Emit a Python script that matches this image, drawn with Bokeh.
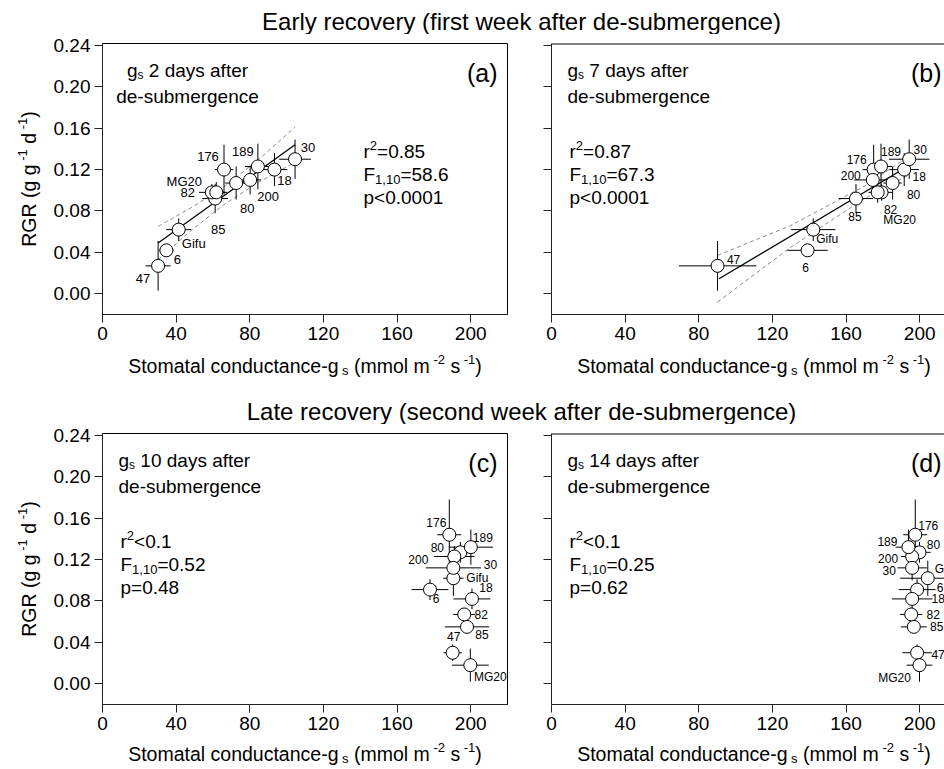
import math
from bokeh.plotting import figure
from bokeh.models import Label, Range1d, FixedTicker, NumeralTickFormatter, CustomJSTickFormatter, Span
from bokeh.layouts import column, row
from bokeh.embed import file_html
from bokeh.resources import INLINE

FONT = "Liberation Sans"

# ---------------- data ----------------
genotypes = ["47", "6", "Gifu", "85", "82", "MG20", "176", "80", "200", "189", "18", "30"]

gs_day2 = [30.2, 34.7, 41.4, 61.2, 59.4, 61.8, 66.0, 72.6, 80.2, 84.4, 93.4, 104.6]
gs_day2_err = [6.8, 4.0, 6.8, 7.0, 7.0, 6.0, 5.0, 6.0, 6.0, 7.0, 7.0, 8.6]
gs_day7 = [90.2, 139.1, 142.2, 165.4, 179.3, 177.2, 175.0, 185.3, 174.5, 179.0, 191.6, 194.3]
gs_day7_err = [21.0, 11.0, 12.0, 9.4, 6.0, 5.0, 6.0, 5.0, 10.0, 6.0, 8.0, 11.0]
gs_day10 = [190.2, 177.9, 190.6, 198.0, 196.5, 199.8, 188.4, 194.4, 191.1, 200.1, 200.7, 190.6]
gs_day10_err = [5.0, 10.0, 5.5, 12.0, 6.0, 10.0, 6.5, 6.0, 11.0, 12.0, 10.0, 15.0]
gs_day14 = [198.6, 198.6, 204.4, 196.8, 195.4, 199.9, 197.6, 199.9, 195.9, 193.9, 195.9, 195.9]
gs_day14_err = [8.0, 10.0, 15.0, 7.0, 6.0, 7.0, 6.5, 6.0, 6.0, 7.0, 11.0, 8.0]

rgr_early = [0.027, 0.042, 0.062, 0.092, 0.098, 0.098, 0.120, 0.107, 0.110, 0.123, 0.120, 0.130]
rgr_early_err = [0.024, 0.006, 0.011, 0.014, 0.008, 0.010, 0.024, 0.016, 0.014, 0.022, 0.016, 0.019]
rgr_late = [0.030, 0.091, 0.102, 0.055, 0.067, 0.018, 0.144, 0.127, 0.123, 0.132, 0.082, 0.112]
rgr_late_err = [0.008, 0.010, 0.017, 0.006, 0.006, 0.016, 0.034, 0.010, 0.010, 0.017, 0.010, 0.012]

# regression lines and 95% bands (panels a, b)
fit_a_x = [30.2, 104.6]
fit_a_y = [0.049, 0.144]
band_a_x = [30.2, 48.0, 65.8, 85.0, 104.6]
band_a_hi = [0.065, 0.083, 0.103, 0.130, 0.161]
band_a_lo = [0.033, 0.061, 0.086, 0.108, 0.127]
fit_b_x = [91.0, 193.4]
fit_b_y = [0.0145, 0.123]
band_b_x = [90.2, 130.0, 170.0, 194.3]
band_b_hi = [0.037, 0.066, 0.104, 0.133]
band_b_lo = [-0.008, 0.045, 0.092, 0.115]

x_ticks = [0, 40, 80, 120, 160, 200]
y_ticks = [0.00, 0.04, 0.08, 0.12, 0.16, 0.20, 0.24]

section_titles = ["Early recovery (first week after de-submergence)",
                  "Late recovery (second week after de-submergence)"]
panel_letters = ["(a)", "(b)", "(c)", "(d)"]
panel_days = ["2", "7", "10", "14"]
stats = [("=0.85", "=58.6", "p<0.0001"),
         ("=0.87", "=67.3", "p<0.0001"),
         ("<0.1", "=0.52", "p=0.48"),
         ("<0.1", "=0.25", "p=0.62")]

# ---------------- layout constants ----------------
PXU = 405.0 / 220.0
Y_RANGE = (-0.02, 0.2418)
FRAME_H = 271
MBT, MBB = 9, 36

# Arial / Liberation Sans advance widths (per 1000 em)
W = {' ': 278, '!': 278, '(': 333, ')': 333, ',': 278, '-': 333, '.': 278, '=': 584, '<': 584, '>': 584}
for c in "0123456789":
    W[c] = 556
W.update({'A': 667, 'B': 667, 'C': 722, 'D': 722, 'E': 667, 'F': 611, 'G': 778, 'H': 722, 'I': 278,
          'L': 556, 'M': 833, 'R': 722, 'S': 667, 'T': 611,
          'a': 556, 'b': 556, 'c': 500, 'd': 556, 'e': 556, 'f': 278, 'g': 556, 'h': 556, 'i': 222,
          'k': 500, 'l': 222, 'm': 833, 'n': 556, 'o': 556, 'p': 556, 'r': 333, 's': 500, 't': 278,
          'u': 556, 'v': 500, 'w': 722, 'y': 500})


def tw(s, size):
    return sum(W.get(c, 556) for c in s) * size / 1000.0


def put(p, meta, text, px, py, size, align="left", angle=0.0):
    """px, py: page coordinates of the anchor (vertical middle of the text)."""
    p.add_layout(Label(x=meta["x0"], y=meta["y0"], x_offset=px - meta["fl"], y_offset=meta["fb"] - py,
                       text=text, text_font=FONT, text_font_size=f"{size}px", text_align=align,
                       text_baseline="middle", angle=angle, text_color="black"))


def rich(p, meta, segs, px, py, align="left", vertical=False):
    """segs: (text, size, rise_px); px,py = page coords of the middle line start."""
    total = sum(tw(t, s) for t, s, r in segs)
    cur = {"left": 0.0, "center": -total / 2.0, "right": -total}[align]
    for t, s, r in segs:
        lead = len(t) - len(t.lstrip())
        shift = tw(t[:lead], s)
        txt = t.strip()
        if txt:
            if not vertical:
                put(p, meta, txt, px + cur + shift, py - r, s)
            else:
                put(p, meta, txt, px - r, py - (cur + shift), s, angle=math.pi / 2)
        cur += tw(t, s)


def strip(width, height, page_left, page_top):
    t = figure(width=width, height=height, x_range=Range1d(0, width), y_range=Range1d(0, height),
               x_axis_type=None, y_axis_type=None, output_backend="svg", toolbar_location=None,
               min_border=0, outline_line_color=None)
    t.grid.visible = False
    return t, dict(fl=page_left, fb=page_top + height, x0=0, y0=0)


def panel(page_left, page_top, mbl, mbr, frame_w, show_ylab, boxed):
    xmax = frame_w / PXU
    p = figure(width=mbl + frame_w + mbr, height=MBT + FRAME_H + MBB,
               x_range=Range1d(0, xmax), y_range=Range1d(*Y_RANGE),
               output_backend="svg", toolbar_location=None,
               min_border_left=mbl, min_border_right=mbr, min_border_top=MBT, min_border_bottom=MBB)
    p.grid.visible = False
    if boxed:
        p.outline_line_color = "black"
        p.outline_line_width = 1
    else:
        # the right edge of this frame is cut by the page edge: only the top line shows
        p.outline_line_color = None
        p.add_layout(Span(location=Y_RANGE[1], dimension="width", line_color="black", line_width=2))
    for ax in (p.xaxis[0], p.yaxis[0]):
        ax.axis_line_color = "#222222"
        ax.major_tick_line_color = "#222222"
        ax.major_tick_out = 8
        ax.major_tick_in = 0
        ax.minor_tick_line_color = None
        ax.major_label_text_font = FONT
        ax.major_label_text_font_size = "19px"
        ax.major_label_text_color = "black"
        ax.major_label_standoff = 4
    p.xaxis.ticker = FixedTicker(ticks=x_ticks)
    p.yaxis.ticker = FixedTicker(ticks=y_ticks)
    if show_ylab:
        p.yaxis.formatter = NumeralTickFormatter(format="0.00")
    else:
        p.yaxis.formatter = CustomJSTickFormatter(code="return ''")
    meta = dict(fl=page_left + mbl, ft=page_top + MBT, fb=page_top + MBT + FRAME_H, x0=0, y0=Y_RANGE[0])
    return p, meta


def draw_errorbars(p, xs, xe, ys, ye):
    p.segment(x0=[x - e for x, e in zip(xs, xe)], x1=[x + e for x, e in zip(xs, xe)], y0=ys, y1=ys,
              line_color="black", line_width=1)
    p.segment(x0=xs, x1=xs, y0=[y - e for y, e in zip(ys, ye)], y1=[y + e for y, e in zip(ys, ye)],
              line_color="black", line_width=1)


def draw_markers(p, xs, ys, label_offsets, label_size):
    p.scatter(x=xs, y=ys, marker="circle", size=13, fill_color="white", line_color="black", line_width=1)
    for g, x, y in zip(genotypes, xs, ys):
        dx, dy = label_offsets[g]
        p.add_layout(Label(x=x, y=y, x_offset=dx, y_offset=-dy, text=g, text_font=FONT,
                           text_font_size=f"{label_size}px", text_align="center",
                           text_baseline="middle", text_color="black"))


lab_a = {"47": (-15, 13), "6": (11, 9), "Gifu": (15, 14), "85": (3, 31), "82": (-24, 0), "MG20": (-32, -11),
         "176": (-16, -13), "80": (11, 25), "200": (18, 17), "189": (-15, -15), "18": (10, 11), "30": (13, -12)}
lab_b = {"47": (16, -6), "6": (-2, 17), "Gifu": (14, 9), "85": (-1, 18), "176": (-17, -10), "189": (10, -15),
         "30": (11, -10), "18": (15, 7), "200": (-22, -4), "80": (21, 11), "82": (9, 17), "MG20": (22, 28)}
lab_c = {"176": (-13, -12), "189": (12, -10), "80": (-23, -5), "200": (-36, 3), "30": (37, -3), "Gifu": (24, 0),
         "6": (6, 9), "18": (14, -11), "82": (17, 0), "85": (15, 8), "47": (1, -16), "MG20": (20, 12)}
lab_d = {"176": (13, -9), "189": (-21, -6), "80": (14, -8), "200": (-24, 2), "30": (-23, 3), "Gifu": (18, -9),
         "6": (23, -2), "18": (26, 0), "82": (22, 0), "85": (23, 0), "47": (21, 2), "MG20": (-25, 13)}

# ---------------- figures ----------------
ly, mly = strip(44, 768, 0, 0)
t1, mt1 = strip(900, 34, 44, 0)
pa, ma = panel(44, 34, 58, 10, 405, True, True)
pb, mb = panel(517, 34, 34, 0, 393, False, False)
s2, ms2 = strip(900, 74, 44, 350)
pc, mc = panel(44, 424, 58, 10, 405, True, True)
pd, md = panel(517, 424, 34, 0, 393, False, False)
s3, ms3 = strip(900, 28, 44, 740)

# section titles
put(t1, mt1, section_titles[0], 521, 20.5, 24, align="center")
put(s2, ms2, section_titles[1], 521, 410.5, 24, align="center")

# regression + bands
for p, bx, bh, bl, fx, fy in ((pa, band_a_x, band_a_hi, band_a_lo, fit_a_x, fit_a_y),
                              (pb, band_b_x, band_b_hi, band_b_lo, fit_b_x, fit_b_y)):
    p.line(bx, bh, line_color="#8c8c8c", line_dash="4 3", line_width=1)
    p.line(bx, bl, line_color="#8c8c8c", line_dash="4 3", line_width=1)
    p.line(fx, fy, line_color="black", line_width=1.3)

draw_errorbars(pa, gs_day2, gs_day2_err, rgr_early, rgr_early_err)
draw_errorbars(pb, gs_day7, gs_day7_err, rgr_early, rgr_early_err)
draw_errorbars(pc, gs_day10, gs_day10_err, rgr_late, rgr_late_err)
draw_errorbars(pd, gs_day14, gs_day14_err, rgr_late, rgr_late_err)
draw_markers(pa, gs_day2, rgr_early, lab_a, 13)
draw_markers(pb, gs_day7, rgr_early, lab_b, 12)
draw_markers(pc, gs_day10, rgr_late, lab_c, 12)
draw_markers(pd, gs_day14, rgr_late, lab_d, 12)

# ---------------- texts inside panels ----------------
FS = 19
for i, (p, m) in enumerate(((pa, ma), (pb, mb), (pc, mc), (pd, md))):
    fl, ft = m["fl"], m["ft"]
    put(p, m, panel_letters[i], fl + (395 if i % 2 == 0 else 390), ft + 29, 25, align="right")
    gs_segs = [("g", FS, 0), ("s", 12, -4), (" " + panel_days[i] + " days after", FS, 0)]
    if i == 0:
        rich(p, m, gs_segs, fl + 85, ft + 27, align="center")
        rich(p, m, [("de-submergence", FS, 0)], fl + 85, ft + 53, align="center")
    else:
        rich(p, m, gs_segs, fl + 16, ft + 27)
        rich(p, m, [("de-submergence", FS, 0)], fl + 16, ft + 53)
    r2, fval, pval = stats[i]
    sx = fl + 261 if i == 0 else fl + 18
    rich(p, m, [("r", FS, 0), ("2", 13, 6), (r2, FS, 0)], sx, ft + 108)
    rich(p, m, [("F", FS, 0), ("1,10", 13, -5), (fval, FS, 0)], sx, ft + 131)
    rich(p, m, [(pval, FS, 0)], sx, ft + 154)

# ---------------- axis titles ----------------
xt_segs = [("Stomatal conductance-g", 19.5, 0), (" s", 13, -5), (" (mmol m", 19.5, 0), (" -2", 13, 6),
           (" s", 19.5, 0), (" -1", 13, 6), (")", 19.5, 0)]
yt_segs = [("RGR (g g", 19.5, 0), (" -1", 13, 6), (" d", 19.5, 0), (" -1", 13, 6), (")", 19.5, 0)]
for cx in (ma["fl"] + 202.5, mb["fl"] + 202.5):
    rich(s2, ms2, xt_segs, cx, 365, align="center")
    rich(s3, ms3, xt_segs, cx, 753, align="center")
ytot = sum(tw(t, s) for t, s, r in yt_segs)
for m in (ma, mc):
    cy = (m["ft"] + m["fb"]) / 2.0
    rich(ly, mly, yt_segs, 28.3, cy + ytot / 2.0, vertical=True)

layout = row(ly, column(t1, row(pa, pb), s2, row(pc, pd), s3))
open("out.html", "w").write(file_html(layout, INLINE))
